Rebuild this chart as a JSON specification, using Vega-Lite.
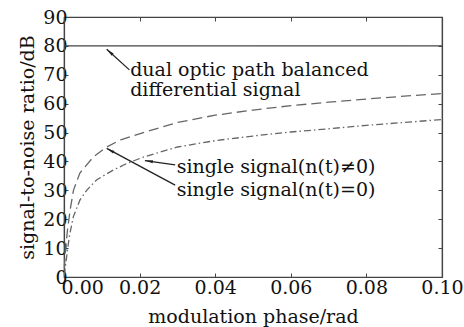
{
  "$schema": "https://vega.github.io/schema/vega-lite/v6.json",
  "width": 378,
  "height": 260,
  "autosize": "none",
  "padding": {"left": 64, "top": 17, "right": 22, "bottom": 50},
  "background": "white",
  "config": {
    "font": "DejaVu Serif",
    "view": {"stroke": "#444", "strokeWidth": 1.2},
    "axis": {
      "grid": false,
      "domainColor": "#444",
      "domainWidth": 1.2,
      "tickColor": "#444",
      "labelColor": "#111",
      "titleColor": "#111",
      "labelFont": "DejaVu Serif",
      "titleFont": "DejaVu Serif",
      "labelFontSize": 19,
      "titleFontSize": 19,
      "titleFontWeight": "normal"
    }
  },
  "datasets": {
    "curves": [
      {"series": "dual", "x": 0, "y": 80},
      {"series": "dual", "x": 0.1, "y": 80},
      {"series": "n0", "x": 0.0001, "y": 3},
      {"series": "n0", "x": 0.0003, "y": 8},
      {"series": "n0", "x": 0.0009, "y": 16},
      {"series": "n0", "x": 0.0016, "y": 23},
      {"series": "n0", "x": 0.0025, "y": 30},
      {"series": "n0", "x": 0.0042, "y": 36},
      {"series": "n0", "x": 0.0078, "y": 41.6},
      {"series": "n0", "x": 0.0113, "y": 45},
      {"series": "n0", "x": 0.015, "y": 47.5},
      {"series": "n0", "x": 0.021, "y": 50},
      {"series": "n0", "x": 0.03, "y": 53.5},
      {"series": "n0", "x": 0.04, "y": 56},
      {"series": "n0", "x": 0.05, "y": 57.8},
      {"series": "n0", "x": 0.06, "y": 59.3},
      {"series": "n0", "x": 0.07, "y": 60.5},
      {"series": "n0", "x": 0.08, "y": 61.6},
      {"series": "n0", "x": 0.09, "y": 62.6},
      {"series": "n0", "x": 0.1, "y": 63.5},
      {"series": "n1", "x": 0.0001, "y": 0.5},
      {"series": "n1", "x": 0.0003, "y": 3},
      {"series": "n1", "x": 0.0007, "y": 7},
      {"series": "n1", "x": 0.0014, "y": 14},
      {"series": "n1", "x": 0.0025, "y": 21},
      {"series": "n1", "x": 0.0042, "y": 26.6},
      {"series": "n1", "x": 0.006, "y": 30},
      {"series": "n1", "x": 0.0086, "y": 33.6},
      {"series": "n1", "x": 0.013, "y": 37},
      {"series": "n1", "x": 0.0166, "y": 39.3},
      {"series": "n1", "x": 0.021, "y": 41.5},
      {"series": "n1", "x": 0.03, "y": 45},
      {"series": "n1", "x": 0.04, "y": 47.2},
      {"series": "n1", "x": 0.05, "y": 48.8},
      {"series": "n1", "x": 0.06, "y": 50.2},
      {"series": "n1", "x": 0.07, "y": 51.3},
      {"series": "n1", "x": 0.08, "y": 52.5},
      {"series": "n1", "x": 0.09, "y": 53.5},
      {"series": "n1", "x": 0.1, "y": 54.5}
    ],
    "labels": [
      {"text": "dual optic path balanced", "x": 0.0175, "y": 71.7},
      {"text": "differential signal", "x": 0.0175, "y": 64.7},
      {"text": "single signal(n(t)≠0)", "x": 0.0298, "y": 38.2},
      {"text": "single signal(n(t)=0)", "x": 0.0298, "y": 30.1}
    ],
    "arrows": [
      {"id": "a1", "x": 0.0173, "y": 71.7, "x2": 0.0113, "y2": 78.8},
      {"id": "a2", "x": 0.0294, "y": 38.8, "x2": 0.0214, "y2": 40.3},
      {"id": "a3", "x": 0.0294, "y": 31.8, "x2": 0.0113, "y2": 44.5}
    ]
  },
  "resolve": {"axis": {"x": "independent", "y": "independent"}},
  "layer": [
    {
      "data": {"name": "curves"},
      "mark": {"type": "line", "strokeWidth": 1.3},
      "encoding": {
        "x": {
          "field": "x", "type": "quantitative",
          "scale": {"domain": [0, 0.1], "nice": false},
          "axis": {"orient": "bottom", "values": [0, 0.02, 0.04, 0.06, 0.08, 0.1], "format": ".2f", "tickSize": -4, "labelPadding": 5,
            "labelAlign": {"condition": {"test": "datum.value === 0", "value": "left"}, "value": "center"},
            "labelOffset": {"condition": {"test": "datum.value === 0", "value": -3}, "value": 0},
            "title": "modulation phase/rad", "titlePadding": 10}
        },
        "y": {
          "field": "y", "type": "quantitative",
          "scale": {"domain": [0, 90], "nice": false},
          "axis": {"orient": "left", "values": [0, 10, 20, 30, 40, 50, 60, 70, 80, 90], "tickSize": -4, "labelPadding": 1, "title": "signal-to-noise ratio/dB", "titlePadding": 5}
        },
        "color": {"field": "series", "type": "nominal", "scale": {"domain": ["dual", "n0", "n1"], "range": ["#444", "#666", "#666"]}, "legend": null},
        "strokeDash": {"field": "series", "type": "nominal", "scale": {"domain": ["dual", "n0", "n1"], "range": [[1, 0], [10, 5], [7, 3, 1.5, 3]]}, "legend": null}
      }
    },
    {
      "data": {"name": "curves"},
      "mark": {"type": "point", "opacity": 0},
      "encoding": {
        "x": {"field": "x", "type": "quantitative", "scale": {"domain": [0, 0.1], "nice": false}, "axis": {"orient": "top", "values": [0, 0.02, 0.04, 0.06, 0.08, 0.1], "labels": false, "tickSize": -4, "title": null}},
        "y": {"field": "y", "type": "quantitative", "scale": {"domain": [0, 90], "nice": false}, "axis": {"orient": "right", "values": [0, 10, 20, 30, 40, 50, 60, 70, 80, 90], "labels": false, "tickSize": -4, "title": null}}
      }
    },
    {
      "data": {"name": "labels"},
      "mark": {"type": "text", "align": "left", "baseline": "middle", "fontSize": 19, "font": "DejaVu Serif", "color": "#111"},
      "encoding": {
        "x": {"field": "x", "type": "quantitative", "axis": null},
        "y": {"field": "y", "type": "quantitative", "axis": null},
        "text": {"field": "text"}
      }
    },
    {
      "data": {"name": "arrows"},
      "mark": {"type": "rule", "color": "#222", "strokeWidth": 1.3},
      "encoding": {
        "x": {"field": "x", "type": "quantitative", "axis": null},
        "y": {"field": "y", "type": "quantitative", "axis": null},
        "x2": {"field": "x2"},
        "y2": {"field": "y2"}
      }
    },
    {
      "data": {"name": "arrows"},
      "transform": [{"filter": "datum.id === 'a1'"}],
      "mark": {"type": "point", "shape": "M0,0L0.3,1.6L-0.3,1.6Z", "filled": true, "color": "#222", "opacity": 1, "size": 100, "angle": 312},
      "encoding": {"x": {"field": "x2", "type": "quantitative", "axis": null}, "y": {"field": "y2", "type": "quantitative", "axis": null}}
    },
    {
      "data": {"name": "arrows"},
      "transform": [{"filter": "datum.id === 'a2'"}],
      "mark": {"type": "point", "shape": "M0,0L0.3,1.6L-0.3,1.6Z", "filled": true, "color": "#222", "opacity": 1, "size": 100, "angle": 278},
      "encoding": {"x": {"field": "x2", "type": "quantitative", "axis": null}, "y": {"field": "y2", "type": "quantitative", "axis": null}}
    },
    {
      "data": {"name": "arrows"},
      "transform": [{"filter": "datum.id === 'a3'"}],
      "mark": {"type": "point", "shape": "M0,0L0.3,1.6L-0.3,1.6Z", "filled": true, "color": "#222", "opacity": 1, "size": 100, "angle": 298},
      "encoding": {"x": {"field": "x2", "type": "quantitative", "axis": null}, "y": {"field": "y2", "type": "quantitative", "axis": null}}
    }
  ]
}
